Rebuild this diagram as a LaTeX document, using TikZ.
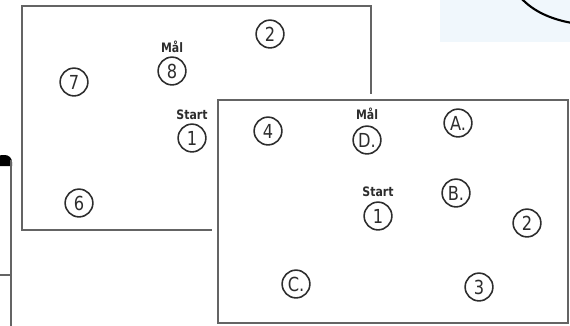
\documentclass[tikz,border=0pt]{standalone}
\usepackage{fontspec}
\setmainfont{DejaVu Sans}[FakeStretch=0.84]
\definecolor{ink}{RGB}{45,45,45}
\definecolor{frame}{RGB}{100,100,100}
\definecolor{sky}{RGB}{240,247,252}

\begin{document}
\begin{tikzpicture}[x=0.02cm, y=-0.02cm,
    punkt/.style={circle, draw=ink, line width=0.9pt, minimum size=15.8pt, inner sep=0pt, text=ink, font=\fontsize{11}{11}\selectfont},
    merke/.style={inner sep=0pt, text=ink, font=\bfseries\fontsize{7.4}{7.4}\selectfont},
    ramme/.style={draw=frame, line width=1.1pt}]

    \useasboundingbox (0,0) rectangle (570,325);

    % rester i kanten
    \fill[sky] (440,0) rectangle (570,42);
    \draw[line width=1.2pt] (521,-2) .. controls (533,11) and (550,19) .. (572,23);
    \fill (-5,166) [rounded corners=4pt] -- (-5,155) -- (12,155) [sharp corners] -- (12,166) -- cycle;
    \draw[frame, line width=0.9pt] (11,160) -- (11,330);
    \draw[frame, line width=0.9pt] (-2,275) -- (11,275);

    % kart 1
    \draw[ramme] (22,6) rectangle (371,230);
    \node[punkt] (a2) at (270,34) {2};
    \node[punkt] (a8) at (172,71) {8};
    \node[merke] (a8t) at (172,47) {Mål};
    \node[punkt] (a7) at (74,82) {7};
    \node[punkt] (a1) at (192,138) {1};
    \node[merke] (a1t) at (192,115) {Start};
    \node[punkt] (a6) at (79,203) {6};

    % kart 2
    \fill[white] (212,94) rectangle (575,330);
    \draw[ramme] (218,100) rectangle (568,323);
    \node[punkt] (b4) at (268,131) {4};
    \node[punkt] (bD) at (367,140) {D.};
    \node[merke] (bDt) at (367,114) {Mål};
    \node[punkt] (bA) at (458,123) {A.};
    \node[punkt] (b1) at (378,216) {1};
    \node[merke] (b1t) at (378,192) {Start};
    \node[punkt] (bB) at (456,193) {B.};
    \node[punkt] (b2) at (527,223) {2};
    \node[punkt] (bC) at (296,284) {C.};
    \node[punkt] (b3) at (479,287) {3};

\end{tikzpicture}
\end{document}
